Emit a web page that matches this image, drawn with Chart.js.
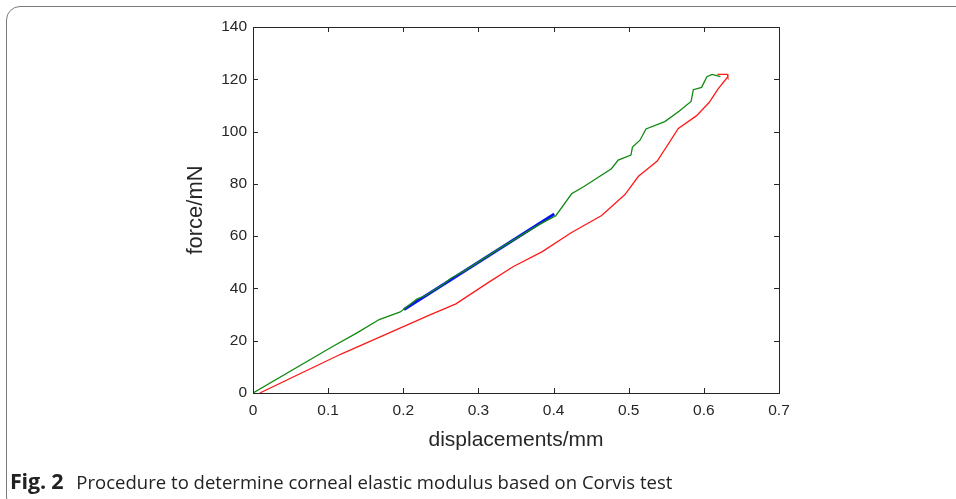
<!DOCTYPE html>
<html>
<head>
<meta charset="utf-8">
<title>Corvis force–displacement</title>
<script src="https://cdn.jsdelivr.net/npm/chart.js@4/dist/chart.umd.min.js"></script>
<style>
  html, body { margin: 0; padding: 0; background: #fff; }
  #wrap { position: relative; width: 956px; height: 499px; overflow: hidden; }
  #frame {
    position: absolute; left: 6px; top: 6px; width: 1000px; height: 505px;
    border: 1.5px solid #7a7a7a; border-radius: 14px; box-sizing: border-box;
  }
  #plot { position: absolute; left: 0; top: 0; width: 956px; height: 499px; }
  #caption {
    position: absolute; left: 10px; top: 466px;
    font-family: "Open Sans", "Noto Sans", sans-serif; font-size: 18.5px; color: #222;
    white-space: nowrap; letter-spacing: 0.02px;
  }
  #caption b { font-weight: 700; font-size: 21.5px; letter-spacing: -0.2px; margin-right: 13px; }
</style>
</head>
<body>
<div id="wrap">
  <div id="frame"></div>
  <div id="plot"><canvas id="chart-fd"></canvas></div>
  <div id="caption"><b>Fig. 2</b>Procedure to determine corneal elastic modulus based on Corvis test</div>
</div>
<script>
  // loading branch (green)
  const loadX = [0, 0.106, 0.139, 0.168, 0.196, 0.218, 0.229, 0.253, 0.263, 0.282, 0.330, 0.382, 0.403,
    0.424, 0.441, 0.477, 0.486, 0.503, 0.505, 0.515, 0.523, 0.548, 0.567, 0.583, 0.586, 0.597,
    0.604, 0.611, 0.617, 0.622];
  const loadY = [0, 17.8, 23.1, 28.1, 31.0, 35.9, 37.2, 41.5, 43.8, 46.8, 55.6, 64.6, 67.8,
    76.2, 79.1, 85.8, 89.1, 91.0, 94.1, 96.7, 101.0, 103.8, 107.8, 111.5, 116.0, 116.9,
    121.0, 121.9, 121.4, 121.0];

  // unloading branch (red), from the peak back down
  const unloadX = [0.618, 0.631, 0.632, 0.619, 0.607, 0.590, 0.566, 0.538, 0.513, 0.495, 0.464,
    0.424, 0.385, 0.346, 0.315, 0.270, 0.234, 0.118, 0.009];
  const unloadY = [121.9, 121.9, 121.0, 116.3, 111.1, 106.0, 101.2, 88.7, 82.9, 75.9, 67.9,
    61.4, 54.1, 48.3, 42.6, 34.1, 29.7, 15.0, 0];

  // linear fit between 0.2 and 0.4 mm (blue)
  const fitX = [0.201, 0.401];
  const fitY = [31.9, 68.5];

  const xTicks = [0, 0.1, 0.2, 0.3, 0.4, 0.5, 0.6, 0.7];
  const yTicks = [0, 20, 40, 60, 80, 100, 120, 140];

  const axisColor = '#262626';

  function toPoints(xs, ys) {
    return xs.map(function (x, i) { return { x: x, y: ys[i] }; });
  }

  // MATLAB style box with inward tick marks on all four sides
  const boxFrame = {
    id: 'boxFrame',
    afterDatasetsDraw(chart) {
      const ctx = chart.ctx;
      const a = chart.chartArea;
      const sx = chart.scales.x;
      const sy = chart.scales.y;
      const len = 5;
      ctx.save();
      ctx.strokeStyle = axisColor;
      ctx.lineWidth = 1;
      ctx.beginPath();
      xTicks.forEach(function (v) {
        const px = Math.round(sx.getPixelForValue(v)) + 0.5;
        ctx.moveTo(px, a.bottom); ctx.lineTo(px, a.bottom - len);
        ctx.moveTo(px, a.top); ctx.lineTo(px, a.top + len);
      });
      yTicks.forEach(function (v) {
        const py = Math.round(sy.getPixelForValue(v)) + 0.5;
        ctx.moveTo(a.left, py); ctx.lineTo(a.left + len, py);
        ctx.moveTo(a.right, py); ctx.lineTo(a.right - len, py);
      });
      ctx.stroke();
      ctx.strokeRect(Math.round(a.left) + 0.5, Math.round(a.top) + 0.5,
        Math.round(a.right - a.left), Math.round(a.bottom - a.top));
      ctx.restore();
    }
  };

  new Chart(document.getElementById('chart-fd'), {
    type: 'scatter',
    data: {
      datasets: [
        {
          label: 'loading',
          data: toPoints(loadX, loadY),
          showLine: true,
          borderColor: '#108a10',
          borderWidth: 1.3,
          pointRadius: 0,
          tension: 0
        },
        {
          label: 'unloading',
          data: toPoints(unloadX, unloadY),
          showLine: true,
          borderColor: '#ff1a1a',
          borderWidth: 1.3,
          pointRadius: 0,
          tension: 0
        },
        {
          label: 'fit',
          data: toPoints(fitX, fitY),
          showLine: true,
          borderColor: '#0a14f0',
          borderWidth: 3,
          pointRadius: 0
        }
      ]
    },
    options: {
      responsive: true,
      maintainAspectRatio: false,
      animation: false,
      layout: { padding: { left: 183, right: 177, top: 27, bottom: 46 } },
      plugins: { legend: { display: false }, tooltip: { enabled: false } },
      scales: {
        x: {
          type: 'linear',
          min: 0,
          max: 0.7,
          afterBuildTicks: function (s) { s.ticks = xTicks.map(function (v) { return { value: v }; }); },
          afterFit: function (s) { s.height = 60; },
          grid: { display: false, drawTicks: false },
          border: { display: false },
          ticks: {
            padding: 8,
            color: axisColor,
            font: { family: 'Liberation Sans, Arial, sans-serif', size: 15.5 },
            callback: function (v) { return String(v); }
          },
          title: {
            display: true,
            text: 'displacements/mm',
            color: axisColor,
            padding: 0,
            font: { family: 'Liberation Sans, Arial, sans-serif', size: 21 }
          }
        },
        y: {
          type: 'linear',
          min: 0,
          max: 140,
          afterBuildTicks: function (s) { s.ticks = yTicks.map(function (v) { return { value: v }; }); },
          afterFit: function (s) { s.width = 70; },
          grid: { display: false, drawTicks: false },
          border: { display: false },
          ticks: {
            padding: 6,
            color: axisColor,
            font: { family: 'Liberation Sans, Arial, sans-serif', size: 15.5 }
          },
          title: {
            display: true,
            text: 'force/mN',
            color: axisColor,
            padding: 0,
            font: { family: 'Liberation Sans, Arial, sans-serif', size: 22 }
          }
        }
      }
    },
    plugins: [boxFrame]
  });
</script>
</body>
</html>
